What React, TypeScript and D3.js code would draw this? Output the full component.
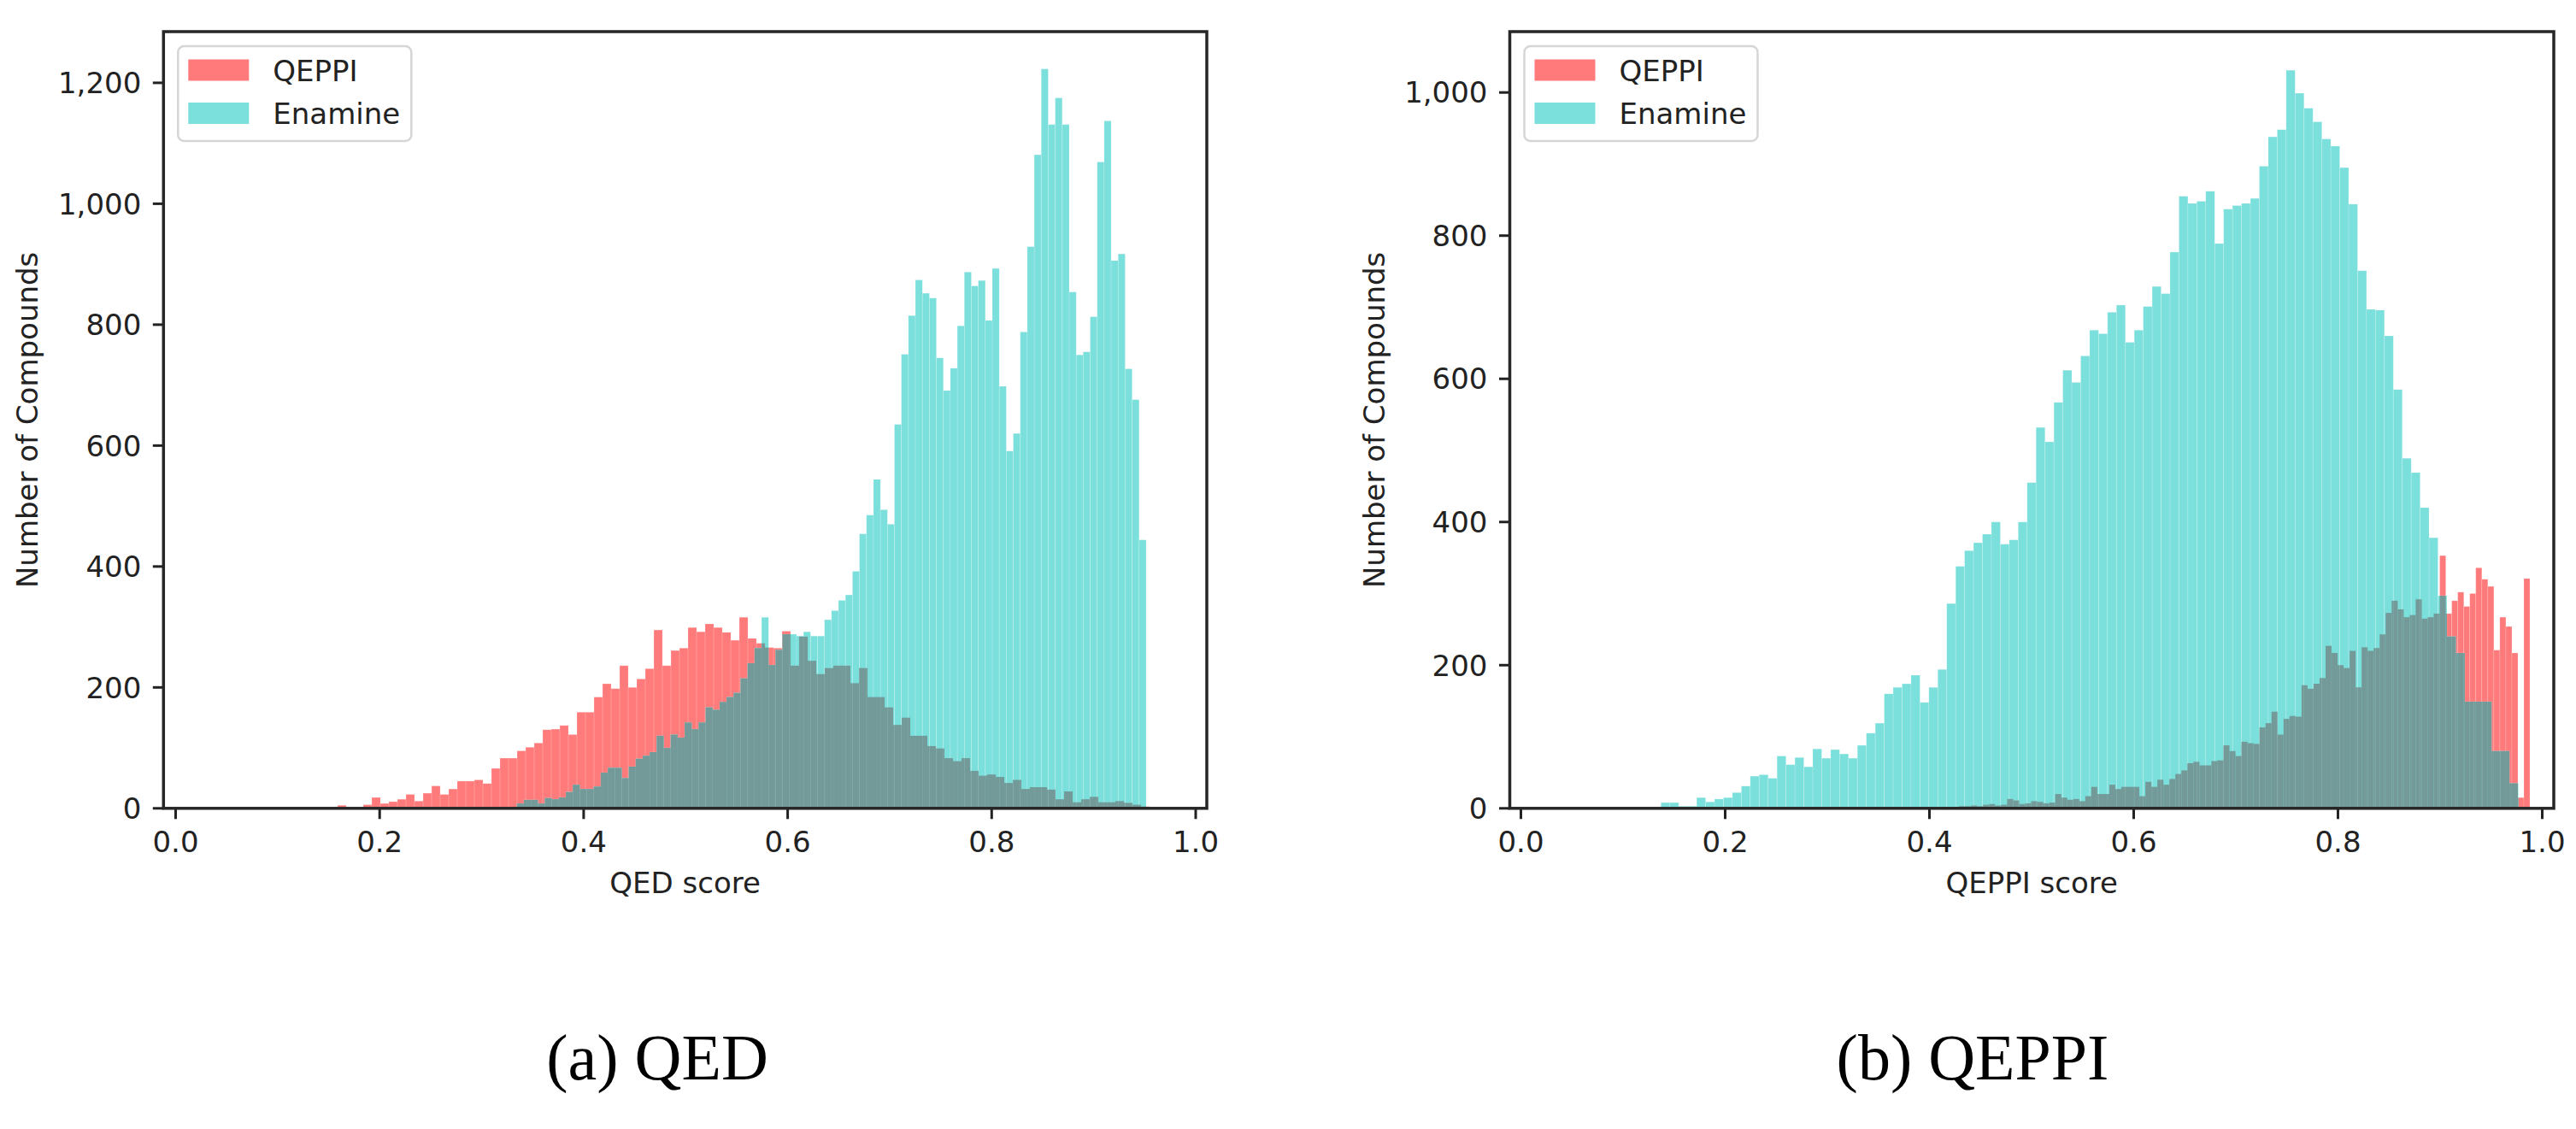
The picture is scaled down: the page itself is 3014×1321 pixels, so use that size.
import React from "react";
import * as d3 from "d3";

// ---------------- data ----------------
const seriesNames = ["QEPPI", "Enamine"];
const xTickValues = [0, 0.2, 0.4, 0.6, 0.8, 1.0];
const qedYTickValues = [0, 200, 400, 600, 800, 1000, 1200];
const qeppiYTickValues = [0, 200, 400, 600, 800, 1000];

// (a) QED score — QEPPI compounds
const qedQeppiBinStart = 0.1588;
const qedQeppiBinWidth = 0.008379;
const qedQeppiCounts = [
  5, 0, 0, 6, 18, 8, 11, 15, 23, 12,
  25, 37, 23, 32, 45, 45, 47, 41, 66, 83,
  83, 95, 101, 108, 130, 131, 137, 122, 159, 159,
  184, 206, 198, 236, 200, 214, 231, 295, 236, 261,
  265, 299, 292, 305, 299, 291, 278, 316, 281, 273,
  266, 265, 293, 236, 284, 244, 222, 232, 236, 236,
  207, 232, 184, 184, 167, 138, 150, 120, 120, 103,
  99, 83, 78, 83, 62, 54, 56, 52, 42, 47,
  32, 35, 35, 31, 15, 28, 10, 15, 19, 10,
  10, 12, 9, 6, 3,
];
// (a) QED score — Enamine compounds
const qedEnamineBinStart = 0.266;
const qedEnamineBinWidth = 0.006854;
const qedEnamineCounts = [
  0, 0, 0, 0, 0, 0, 0, 1, 2, 2,
  8, 14, 14, 8, 17, 15, 18, 27, 39, 32,
  32, 36, 59, 67, 67, 50, 69, 82, 87, 93,
  120, 100, 122, 117, 142, 131, 142, 167, 163, 176,
  184, 191, 215, 240, 265, 316, 237, 262, 288, 288,
  285, 292, 285, 285, 312, 327, 344, 353, 392, 454,
  485, 544, 494, 470, 635, 751, 815, 874, 852, 844,
  745, 691, 728, 798, 887, 864, 873, 807, 893, 698,
  591, 620, 788, 929, 1081, 1223, 1131, 1175, 1131, 854,
  750, 755, 813, 1069, 1137, 906, 917, 727, 676, 444,
];

// (b) QEPPI score — QEPPI compounds
const qeppiQeppiBinStart = 0.3996;
const qeppiQeppiBinWidth = 0.005883;
const qeppiQeppiCounts = [
  1, 0, 2, 1, 2, 3, 3, 4, 3, 5,
  6, 4, 5, 13, 11, 6, 7, 10, 9, 7,
  8, 20, 15, 12, 13, 10, 17, 30, 20, 20,
  33, 27, 30, 30, 30, 17, 37, 30, 40, 33,
  41, 48, 53, 63, 65, 60, 60, 66, 67, 88,
  80, 73, 93, 91, 90, 113, 119, 135, 103, 125,
  129, 128, 172, 167, 174, 182, 227, 217, 200, 196,
  220, 169, 225, 220, 224, 243, 273, 290, 278, 267,
  270, 292, 265, 267, 272, 353, 272, 290, 302, 282,
  300, 336, 320, 310, 221, 267, 254, 217, 15, 321,
];
// (b) QEPPI score — Enamine compounds
const qeppiEnamineBinStart = 0.1371;
const qeppiEnamineBinWidth = 0.008745;
const qeppiEnamineCounts = [
  8, 8, 3, 3, 15, 9, 13, 15, 22, 31,
  45, 47, 42, 73, 61, 71, 58, 83, 70, 82,
  76, 70, 88, 105, 119, 160, 169, 174, 186, 148,
  169, 194, 286, 338, 360, 371, 383, 400, 369, 375,
  400, 455, 532, 512, 567, 612, 595, 632, 668, 663,
  693, 703, 651, 668, 701, 729, 719, 777, 855, 845,
  848, 862, 789, 837, 842, 845, 852, 897, 938, 948,
  1031, 999, 978, 959, 935, 925, 895, 844, 751, 697,
  696, 660, 585, 489, 469, 420, 378, 297, 240, 217,
  149, 149, 149, 80, 80, 35,
];

// ---------------- styling ----------------
const RED = "#ff7b7b";
const CYAN = "#7bdfdc";
const OVERLAP = "#739a98";
const INK = "#222222";
const SANS = "'DejaVu Sans', Verdana, sans-serif";
const SERIF = "'Liberation Serif', 'Times New Roman', serif";

type Series = { start: number; width: number; counts: number[] };
type Bin = { x0: number; x1: number; c: number };

function toBins(s: Series): Bin[] {
  return s.counts.map((c, i) => ({
    x0: s.start + i * s.width,
    x1: s.start + (i + 1) * s.width,
    c,
  }));
}

function valueAt(bins: Bin[], v: number): number {
  for (const b of bins) if (v >= b.x0 && v < b.x1) return b.c;
  return 0;
}

type PanelProps = {
  left: number;
  right: number;
  top: number;
  bottom: number;
  xDomain: [number, number];
  yMax: number;
  red: Series;
  cyan: Series;
  yTicks: number[];
  xLabel: string;
  caption: string;
  captionX: number;
};

function Panel(p: PanelProps) {
  const x = d3.scaleLinear().domain(p.xDomain).range([p.left, p.right]);
  const y = d3.scaleLinear().domain([0, p.yMax]).range([p.bottom, p.top]);
  const rb = toBins(p.red);
  const cb = toBins(p.cyan);
  const edges = Array.from(
    new Set([...rb.flatMap((b) => [b.x0, b.x1]), ...cb.flatMap((b) => [b.x0, b.x1])])
  ).sort(d3.ascending);
  const overlap: Bin[] = [];
  for (let i = 0; i < edges.length - 1; i++) {
    const a = edges[i];
    const b = edges[i + 1];
    const m = (a + b) / 2;
    const c = Math.min(valueAt(rb, m), valueAt(cb, m));
    if (c > 0) overlap.push({ x0: a, x1: b, c });
  }
  const fmtY = d3.format(",");
  const fmtX = d3.format(".1f");
  const midX = (p.left + p.right) / 2;
  const midY = (p.top + p.bottom) / 2;
  const bar = (b: Bin, fill: string, key: string, stroke?: string) =>
    b.c > 0 ? (
      <rect
        key={key}
        x={x(b.x0)}
        y={y(b.c)}
        width={x(b.x1) - x(b.x0)}
        height={y(0) - y(b.c)}
        fill={fill}
        stroke={stroke || "none"}
        strokeWidth={0.8}
      />
    ) : null;

  const legendX = p.left + 17;
  return (
    <g>
      <g>{rb.map((b, i) => bar(b, RED, "r" + i, "rgba(255,255,255,0.18)"))}</g>
      <g>{cb.map((b, i) => bar(b, CYAN, "c" + i, "rgba(255,255,255,0.22)"))}</g>
      <g>{overlap.map((b, i) => bar(b, OVERLAP, "o" + i))}</g>

      {/* y ticks */}
      {p.yTicks.map((t) => (
        <g key={"yt" + t}>
          <line x1={p.left - 12.5} x2={p.left} y1={y(t)} y2={y(t)} stroke={INK} strokeWidth={3} />
          <text
            x={p.left - 26}
            y={y(t)}
            dy="0.36em"
            textAnchor="end"
            fontFamily={SANS}
            fontSize={34}
            fill={INK}
          >
            {fmtY(t)}
          </text>
        </g>
      ))}
      {/* x ticks */}
      {xTickValues.map((t) => (
        <g key={"xt" + t}>
          <line x1={x(t)} x2={x(t)} y1={p.bottom} y2={p.bottom + 12.5} stroke={INK} strokeWidth={3} />
          <text x={x(t)} y={997} textAnchor="middle" fontFamily={SANS} fontSize={34} fill={INK}>
            {fmtX(t)}
          </text>
        </g>
      ))}

      {/* spines */}
      <rect
        x={p.left}
        y={p.top}
        width={p.right - p.left}
        height={p.bottom - p.top}
        fill="none"
        stroke="#262626"
        strokeWidth={3.5}
      />

      {/* axis labels */}
      <text
        transform={`translate(${p.left - 147},${midY}) rotate(-90)`}
        textAnchor="middle"
        fontFamily={SANS}
        fontSize={34}
        fill={INK}
      >
        Number of Compounds
      </text>
      <text x={midX} y={1045} textAnchor="middle" fontFamily={SANS} fontSize={34} fill={INK}>
        {p.xLabel}
      </text>

      {/* legend */}
      <rect
        x={legendX}
        y={54}
        width={273}
        height={111}
        rx={7}
        fill="#ffffff"
        fillOpacity={0.8}
        stroke="#d6d6d6"
        strokeWidth={2.5}
      />
      {[RED, CYAN].map((c, i) => (
        <g key={"lg" + i}>
          <rect x={legendX + 12} y={69.5 + i * 50.5} width={71} height={25} fill={c} />
          <text
            x={legendX + 111}
            y={94.5 + i * 50.5}
            fontFamily={SANS}
            fontSize={34}
            fill={INK}
          >
            {seriesNames[i]}
          </text>
        </g>
      ))}

      {/* caption */}
      <text x={p.captionX} y={1263} textAnchor="middle" fontFamily={SERIF} fontSize={76} fill="#000">
        {p.caption}
      </text>
    </g>
  );
}

export default function App() {
  return (
    <div style={{ position: "fixed", left: 0, top: 0, width: 3014, height: 1321, background: "#fff" }}>
      <svg width={3014} height={1321} viewBox="0 0 3014 1321" style={{ display: "block" }}>
        <rect x={0} y={0} width={3014} height={1321} fill="#ffffff" />
        <Panel
          left={191.3}
          right={1412}
          top={37}
          bottom={945.8}
          xDomain={[-0.0119, 1.0109]}
          yMax={1284.7}
          red={{ start: qedQeppiBinStart, width: qedQeppiBinWidth, counts: qedQeppiCounts }}
          cyan={{ start: qedEnamineBinStart, width: qedEnamineBinWidth, counts: qedEnamineCounts }}
          yTicks={qedYTickValues}
          xLabel="QED score"
          caption="(a) QED"
          captionX={769}
        />
        <Panel
          left={1766.5}
          right={2988}
          top={37}
          bottom={945.8}
          xDomain={[-0.0109, 1.0113]}
          yMax={1085}
          red={{ start: qeppiQeppiBinStart, width: qeppiQeppiBinWidth, counts: qeppiQeppiCounts }}
          cyan={{ start: qeppiEnamineBinStart, width: qeppiEnamineBinWidth, counts: qeppiEnamineCounts }}
          yTicks={qeppiYTickValues}
          xLabel="QEPPI score"
          caption="(b) QEPPI"
          captionX={2308}
        />
      </svg>
    </div>
  );
}
